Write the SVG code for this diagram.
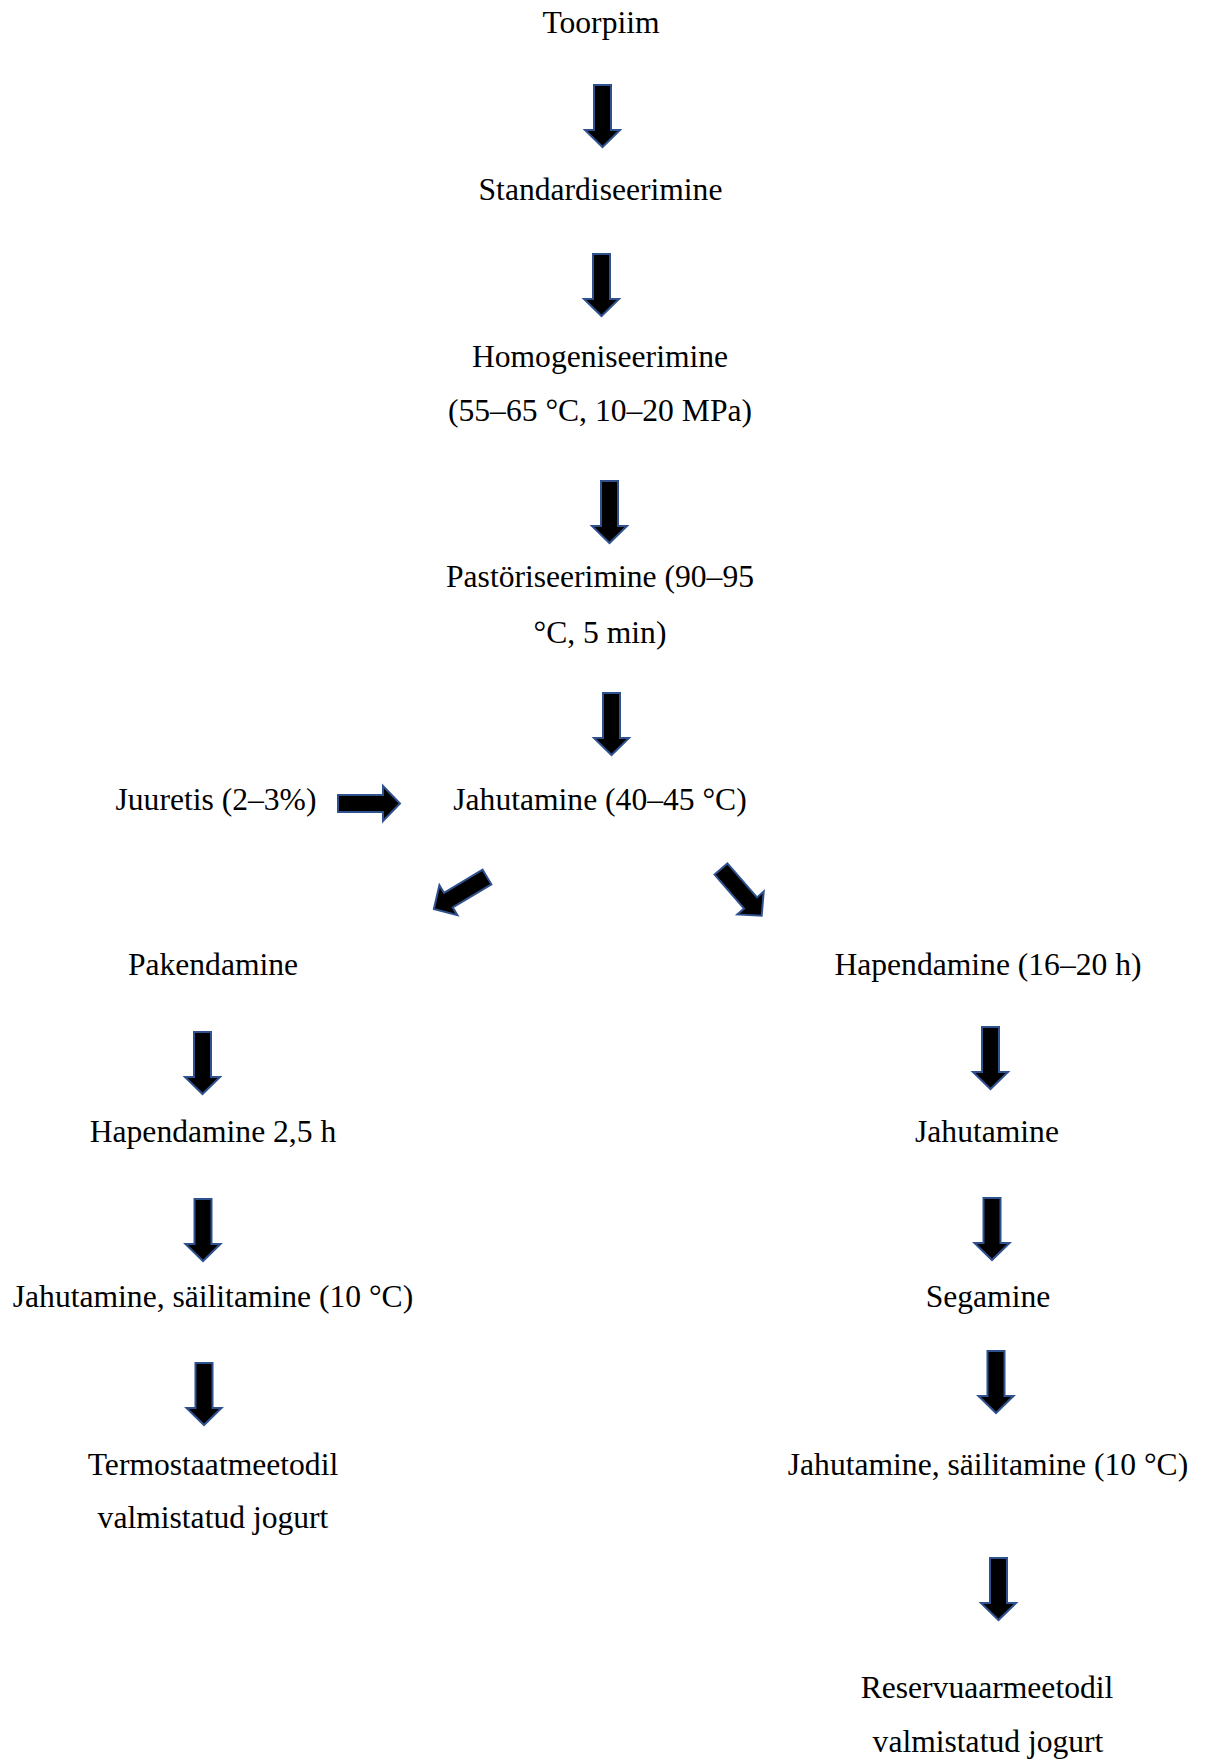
<svg xmlns="http://www.w3.org/2000/svg" width="1208" height="1760" viewBox="0 0 1208 1760">
  <style>
    .lbl { font-family: "Liberation Serif", "Times New Roman", serif; font-size: 31.6px; fill: #000; text-anchor: middle; }
    .arr { fill: #000; stroke: #2F528F; stroke-width: 2; stroke-linejoin: miter; }
  </style>
  <defs>
    <!-- block arrow pointing down, tail centre at origin -->
    <path id="blockArrow" class="arr" d="M -8.5,0 H 8.5 V 45 H 17.5 L 0,62 L -17.5,45 H -8.5 Z"/>
  </defs>
  <rect width="1208" height="1760" fill="#fff"/>

  <!-- main line -->
  <g id="n-toorpiim"><text class="lbl" x="601" y="33">Toorpiim</text></g>
  <g id="n-standardiseerimine"><text class="lbl" x="600.5" y="200">Standardiseerimine</text></g>
  <g id="n-homogeniseerimine">
    <text class="lbl" x="600" y="367">Homogeniseerimine</text>
    <text class="lbl" x="600" y="421">(55–65 °C, 10–20 MPa)</text>
  </g>
  <g id="n-pastoriseerimine">
    <text class="lbl" x="600" y="587">Pastöriseerimine (90–95</text>
    <text class="lbl" x="600" y="643">°C, 5 min)</text>
  </g>
  <g id="n-juuretis"><text class="lbl" x="216" y="810">Juuretis (2–3%)</text></g>
  <g id="n-jahutamine-40"><text class="lbl" x="600" y="810">Jahutamine (40–45 °C)</text></g>

  <!-- thermostat branch -->
  <g id="n-pakendamine"><text class="lbl" x="213" y="975">Pakendamine</text></g>
  <g id="n-hapendamine-25"><text class="lbl" x="213" y="1142">Hapendamine 2,5 h</text></g>
  <g id="n-jahutamine-l"><text class="lbl" x="213" y="1307">Jahutamine, säilitamine (10 °C)</text></g>
  <g id="n-termostaat">
    <text class="lbl" x="213" y="1475">Termostaatmeetodil</text>
    <text class="lbl" x="213" y="1528">valmistatud jogurt</text>
  </g>

  <!-- reservoir branch -->
  <g id="n-hapendamine-16"><text class="lbl" x="988" y="975">Hapendamine (16–20 h)</text></g>
  <g id="n-jahutamine-r"><text class="lbl" x="987" y="1142">Jahutamine</text></g>
  <g id="n-segamine"><text class="lbl" x="988" y="1307">Segamine</text></g>
  <g id="n-jahutamine-r2"><text class="lbl" x="988" y="1475">Jahutamine, säilitamine (10 °C)</text></g>
  <g id="n-reservuaar">
    <text class="lbl" x="987" y="1698">Reservuaarmeetodil</text>
    <text class="lbl" x="988" y="1752">valmistatud jogurt</text>
  </g>

  <!-- connectors -->
  <g id="connectors">
    <use href="#blockArrow" transform="translate(602.5,85)"/>
    <use href="#blockArrow" transform="translate(601.5,254)"/>
    <use href="#blockArrow" transform="translate(609.5,481)"/>
    <use href="#blockArrow" transform="translate(611.5,693)"/>
    <use href="#blockArrow" transform="translate(338,803.5) rotate(-90)"/>
    <use href="#blockArrow" transform="translate(487,877) rotate(59)"/>
    <use href="#blockArrow" transform="translate(721,869) rotate(-41)"/>
    <use href="#blockArrow" transform="translate(202.5,1032)"/>
    <use href="#blockArrow" transform="translate(203,1199)"/>
    <use href="#blockArrow" transform="translate(204,1363)"/>
    <use href="#blockArrow" transform="translate(990.5,1027)"/>
    <use href="#blockArrow" transform="translate(992,1198)"/>
    <use href="#blockArrow" transform="translate(996,1351)"/>
    <use href="#blockArrow" transform="translate(998.5,1558)"/>
  </g>
</svg>
